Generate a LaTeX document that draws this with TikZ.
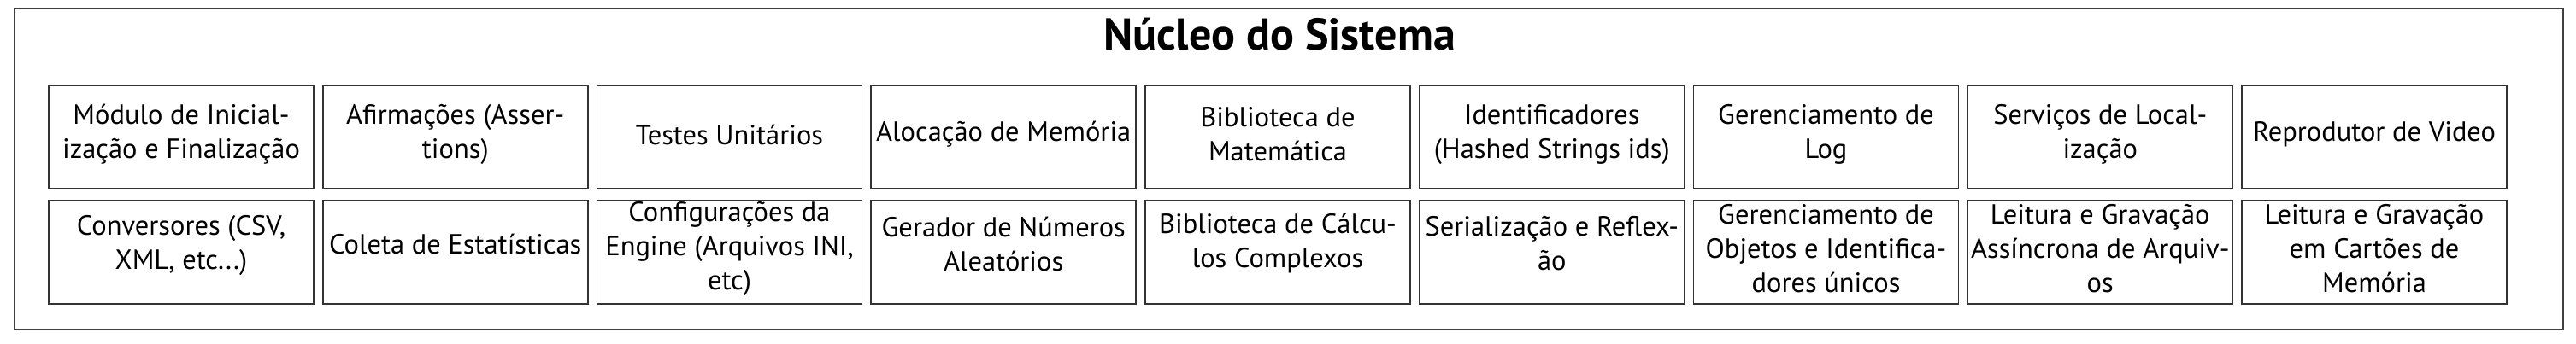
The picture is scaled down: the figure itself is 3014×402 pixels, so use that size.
\documentclass[tikz,border=0pt]{standalone}
\usepackage{fontspec}
\setmainfont{PT Sans}
\begin{document}
\begin{tikzpicture}[x=1pt,y=-1pt,
  mod/.style={draw=black!80,line width=1.6pt,minimum width=310pt,minimum height=121pt,inner sep=0pt},
  txt/.style={inner sep=0pt,align=center,font=\fontsize{32.5}{40}\selectfont},
  frame/.style={draw=black!75,line width=1.8pt}]
\useasboundingbox (0,0) rectangle (3014,402);
\draw[frame] (17,10) rectangle (2999,386);
\node[font=\fontsize{52}{56}\selectfont\bfseries] (title) at (1497,40) {Núcleo do Sistema};
\foreach \i/\t in {0/{Módulo de Inicial-\\ização e Finalização},1/{Afirmações (Asser-\\tions)},2/{Testes Unitários},3/{Alocação de Memória},4/{Biblioteca de\\Matemática},5/{Identificadores\\(Hashed Strings ids)},6/{Gerenciamento de\\Log},7/{Serviços de Local-\\ização},8/{Reprodutor de Video}}
  {\node[mod] (a\i) at (212+320.75*\i,160.5) {};
   \node[txt] (ta\i) at ([yshift=3pt]a\i.center) {\t};}
\foreach \i/\t/\s in {0/{Conversores (CSV,\\XML, etc...)}/8,1/{Coleta de Estatísticas}/10,2/{Configurações da\\Engine (Arquivos INI,\\etc)}/4,3/{Gerador de Números\\Aleatórios}/10,4/{Biblioteca de Cálcu-\\los Complexos}/10,5/{Serialização e Reflex-\\ão}/10,6/{Gerenciamento de\\Objetos e Identifica-\\dores únicos}/4,7/{Leitura e Gravação\\Assíncrona de Arquiv-\\os}/4,8/{Leitura e Gravação\\em Cartões de\\Memória}/4}
  {\node[mod] (b\i) at (212+320.75*\i,295.5) {};
   \node[txt] (tb\i) at ([yshift=\s pt]b\i.center) {\t};}
\end{tikzpicture}
\end{document}
